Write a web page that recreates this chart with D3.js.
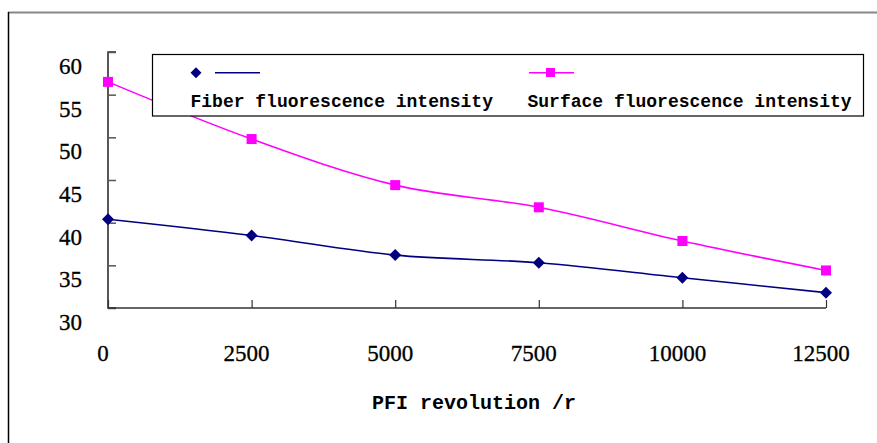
<!DOCTYPE html>
<html><head><meta charset="utf-8">
<script src="https://cdn.jsdelivr.net/npm/d3@7/dist/d3.min.js"></script>
<style>html,body{margin:0;padding:0;background:#fff;}svg{display:block;}</style>
</head><body>
<svg id="chart" width="877" height="443"></svg>
<script>
const revolutions = [0, 2500, 5000, 7500, 10000, 12500];
const fiberIntensity = [40.4, 38.5, 36.2, 35.3, 33.55, 31.8];
const surfaceIntensity = [56.5, 49.8, 44.4, 41.8, 37.85, 34.4];
const yTicks = [30, 35, 40, 45, 50, 55, 60];
const seriesNames = ["Fiber fluorescence intensity", "Surface fluorescence intensity"];
const xTitle = "PFI revolution /r";

const svg = d3.select("#chart");
svg.append("line").attr("x1", 8).attr("x2", 877).attr("y1", 12.5).attr("y2", 12.5)
  .attr("stroke", "#888").attr("stroke-width", 2);
svg.append("line").attr("x1", 8.5).attr("x2", 8.5).attr("y1", 12).attr("y2", 443)
  .attr("stroke", "#000").attr("stroke-width", 1.5);

const x = d3.scaleLinear().domain([0, 12500]).range([108, 826]);
const y = d3.scaleLinear().domain([30, 60]).range([308, 52]);

const serif = "'Liberation Serif', 'DejaVu Serif', serif";
const mono = "'Liberation Mono', 'DejaVu Sans Mono', monospace";

const yAxis = d3.axisRight(y).tickValues(yTicks).tickSize(8).tickFormat("");
const gy = svg.append("g").attr("transform", "translate(108,0)").call(yAxis);
gy.select(".domain").attr("stroke", "#222").attr("stroke-width", 1.5).attr("d", `M8,${y(60)}H0V${y(30)}H8`);
gy.selectAll(".tick line").attr("stroke", "#555").attr("stroke-width", 1.5);
svg.append("g").selectAll("text").data(yTicks).join("text")
  .attr("x", 82).attr("y", d => y(d) + 14).attr("dy", "0.35em")
  .attr("text-anchor", "end").attr("font-family", serif).attr("font-size", 23)
  .attr("fill", "#000").attr("stroke", "#000").attr("stroke-width", 0.3).text(d => d);

const xAxis = d3.axisTop(x).tickValues(revolutions).tickSize(8).tickFormat("");
const gx = svg.append("g").attr("transform", "translate(0,308)").call(xAxis);
gx.select(".domain").attr("stroke", "#333").attr("stroke-width", 1.5).attr("d", `M${x(0)},0H${x(12500)}`);
gx.selectAll(".tick line").attr("stroke", "#333").attr("stroke-width", 1.2);
svg.append("g").selectAll("text").data(revolutions).join("text")
  .attr("x", d => x(d) - 5).attr("y", 353).attr("dy", "0.35em")
  .attr("text-anchor", "middle").attr("font-family", serif).attr("font-size", 23)
  .attr("fill", "#000").attr("stroke", "#000").attr("stroke-width", 0.3).text(d => d);

svg.append("text").attr("x", 474).attr("y", 402).attr("dy", "0.35em")
  .attr("text-anchor", "middle").attr("font-family", mono).attr("font-weight", "bold")
  .attr("font-size", 20).attr("fill", "#000").text(xTitle);

const line = d3.line().x((d, i) => x(revolutions[i])).y(d => y(d)).curve(d3.curveCatmullRom.alpha(0.5));

const fiberColor = "#000080", surfColor = "#ff00ff";
svg.append("path").datum(surfaceIntensity).attr("d", line).attr("fill", "none")
  .attr("stroke", surfColor).attr("stroke-width", 1.6);
svg.append("path").datum(fiberIntensity).attr("d", line).attr("fill", "none")
  .attr("stroke", fiberColor).attr("stroke-width", 1.6);

const diamondPath = "M0,-6L6,0L0,6L-6,0Z";
svg.append("g").selectAll("rect").data(surfaceIntensity).join("rect")
  .attr("x", (d, i) => x(revolutions[i]) - 5).attr("y", d => y(d) - 5)
  .attr("width", 10).attr("height", 10).attr("fill", surfColor);
svg.append("g").selectAll("path").data(fiberIntensity).join("path")
  .attr("d", diamondPath).attr("transform", (d, i) => `translate(${x(revolutions[i])},${y(d)})`)
  .attr("fill", fiberColor);

const lg = svg.append("g");
lg.append("rect").attr("x", 152.5).attr("y", 54.5).attr("width", 711).attr("height", 61.5)
  .attr("fill", "#fff").attr("stroke", "#000").attr("stroke-width", 1.2);
lg.append("path").attr("d", "M0,-5.5L5.5,0L0,5.5L-5.5,0Z").attr("transform", "translate(196,72.7)").attr("fill", fiberColor);
lg.append("line").attr("x1", 215).attr("x2", 260).attr("y1", 72.7).attr("y2", 72.7)
  .attr("stroke", fiberColor).attr("stroke-width", 1.6);
lg.append("line").attr("x1", 529).attr("x2", 574).attr("y1", 72.7).attr("y2", 72.7)
  .attr("stroke", surfColor).attr("stroke-width", 1.6);
lg.append("rect").attr("x", 546).attr("y", 68).attr("width", 9).attr("height", 9).attr("fill", surfColor);
lg.selectAll("text.lbl").data(seriesNames).join("text").attr("class", "lbl")
  .attr("x", (d, i) => i === 0 ? 190.5 : 527.5).attr("y", 101).attr("dy", "0.35em")
  .attr("font-family", mono).attr("font-weight", "bold").attr("font-size", 18)
  .attr("fill", "#000").text(d => d);
</script>
</body></html>
